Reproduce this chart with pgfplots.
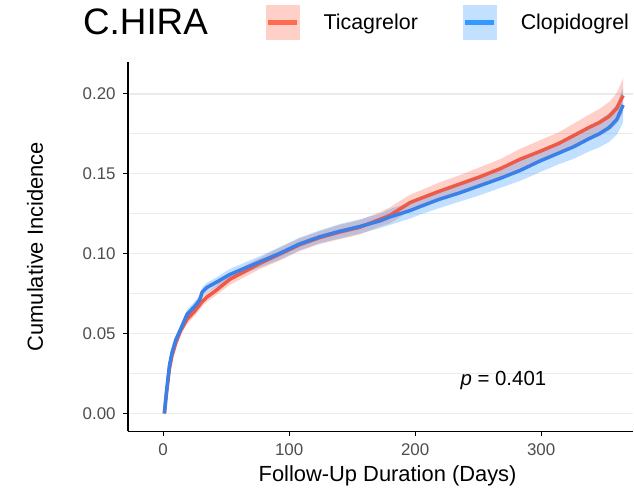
\documentclass[border=0pt]{standalone}
\usepackage{pgfplots}
\pgfplotsset{compat=1.18}
\usepackage{pgfplotstable}
\usepgfplotslibrary{fillbetween}
\usepackage{fontspec}
\setmainfont{Liberation Sans}
\definecolor{redline}{HTML}{EE5A47}
\definecolor{blueline}{HTML}{3A80E8}
\definecolor{redband}{HTML}{FF6347}
\definecolor{blueband}{HTML}{3399FF}
\definecolor{redleg}{HTML}{FF6B50}
\definecolor{blueleg}{HTML}{3399FF}
\definecolor{redlegfill}{HTML}{FFD0C8}
\definecolor{bluelegfill}{HTML}{C2E0FF}
\definecolor{gridc}{HTML}{EBEBEB}
\definecolor{tickc}{HTML}{4D4D4D}
\pgfplotstableread{
x   r      rlo     rhi     b      blo     bhi
1   0      0       0.0005  0      0       0.0005
2   0.008  0.007   0.009   0.008  0.007   0.009
3   0.015  0.014   0.016   0.016  0.015   0.017
5   0.028  0.0265  0.0295  0.030  0.0285  0.0315
7   0.036  0.034   0.038   0.038  0.036   0.040
10  0.044  0.042   0.046   0.046  0.044   0.048
14  0.052  0.0495  0.0545  0.053  0.0505  0.0555
19  0.059  0.056   0.062   0.062  0.059   0.065
25  0.064  0.061   0.067   0.067  0.064   0.070
29  0.068  0.065   0.071   0.071  0.068   0.074
31  0.070  0.067   0.073   0.076  0.073   0.079
35  0.073  0.070   0.076   0.079  0.076   0.082
42  0.077  0.074   0.080   0.082  0.079   0.085
53  0.084  0.0805  0.0875  0.087  0.0835  0.0905
65  0.089  0.0855  0.0925  0.091  0.0875  0.0945
77  0.094  0.0905  0.0975  0.095  0.0915  0.0985
92  0.0995 0.0955  0.1035  0.100  0.096   0.104
108 0.1055 0.1015  0.1095  0.106  0.102   0.110
124 0.110  0.106   0.114   0.1105 0.1065  0.1145
140 0.1135 0.109   0.118   0.114  0.1095  0.1185
156 0.1165 0.112   0.121   0.117  0.1125  0.1215
172 0.1215 0.117   0.126   0.1205 0.116   0.125
180 0.124  0.119   0.129   0.123  0.118   0.128
188 0.128  0.123   0.133   0.125  0.120   0.130
196 0.132  0.127   0.137   0.127  0.122   0.132
204 0.1345 0.1295  0.1395  0.1295 0.1245  0.1345
219 0.139  0.1335  0.1445  0.134  0.1285  0.1395
235 0.1435 0.138   0.149   0.138  0.1325  0.1435
251 0.148  0.142   0.154   0.1425 0.1365  0.1485
267 0.153  0.147   0.159   0.147  0.141   0.153
283 0.159  0.1525  0.1655  0.152  0.1455  0.1585
299 0.164  0.157   0.171   0.158  0.151   0.165
314 0.169  0.162   0.176   0.163  0.156   0.170
326 0.174  0.1665  0.1815  0.167  0.1595  0.1745
338 0.179  0.171   0.187   0.172  0.164   0.180
346 0.182  0.1735  0.1905  0.175  0.1665  0.1835
354 0.186  0.177   0.195   0.179  0.170   0.188
360 0.191  0.1815  0.2005  0.184  0.1745  0.1935
365 0.199  0.188   0.210   0.193  0.182   0.204
}\data
\begin{document}
\begin{tikzpicture}
\begin{axis}[
  scale only axis,
  width=506bp, height=370bp,
  at={(0,0)}, anchor=south west,
  xmin=-28, xmax=373,
  ymin=-0.01125, ymax=0.22,
  clip mode=individual,
  axis lines=left,
  axis line style={-, line width=1.6bp, black},
  xtick={0,100,200,300},
  ytick={0,0.05,0.1,0.15,0.2},
  minor y tick num=1,
  ymajorgrids, yminorgrids,
  major grid style={gridc, line width=1.3bp},
  minor grid style={gridc, line width=1bp},
  tick align=outside,
  major tick length=5bp,
  minor tick length=0pt,
  tick style={black, line width=1.1bp},
  /pgf/number format/assume math mode=true,
  yticklabel style={/pgf/number format/fixed, /pgf/number format/fixed zerofill, /pgf/number format/precision=2, anchor=east, inner sep=0pt, xshift=-7bp, font=\fontsize{17}{17}\selectfont, text=tickc},
  xticklabel style={anchor=base, inner sep=0pt, yshift=-19bp, font=\fontsize{17}{17}\selectfont, text=tickc},
  scaled y ticks=false,
  xlabel={Follow-Up Duration (Days)},
  ylabel={Cumulative Incidence},
  every axis x label/.style={at={(axis description cs:0.514,-0.135)}, anchor=base, inner sep=0pt, font=\fontsize{22}{22}\selectfont},
  every axis y label/.style={at={(axis description cs:-0.168,0.5)}, rotate=90, anchor=base, inner sep=0pt, font=\fontsize{22}{22}\selectfont},
  legend columns=2,
  legend style={at={(axis description cs:0.2727,1.154)}, anchor=north west, draw=none, fill=none, inner sep=0pt, outer sep=0pt,
    font=\fontsize{21.5}{21.5}\selectfont, nodes={inner sep=0pt},
    /tikz/every odd column/.append style={column sep=24bp},
    /tikz/every even column/.append style={column sep=45bp}},
]
\addplot[name path=rhi, draw=none, forget plot] table[x=x,y=rhi]{\data};
\addplot[name path=rlo, draw=none, forget plot] table[x=x,y=rlo]{\data};
\addplot[fill=redband, fill opacity=0.3, draw=none, forget plot] fill between[of=rhi and rlo];
\addplot[name path=bhi, draw=none, forget plot] table[x=x,y=bhi]{\data};
\addplot[name path=blo, draw=none, forget plot] table[x=x,y=blo]{\data};
\addplot[fill=blueband, fill opacity=0.3, draw=none, forget plot] fill between[of=bhi and blo];
\addplot[redline, line width=3.5bp, forget plot] table[x=x,y=r]{\data};
\addplot[blueline, line width=3.5bp, forget plot] table[x=x,y=b]{\data};
\addlegendimage{legend image code/.code={\fill[redlegfill] (0bp,-17bp) rectangle (33bp,17bp); \draw[redleg, line width=5bp] (2bp,0bp)--(31bp,0bp);}}
\addlegendentry{Ticagrelor}
\addlegendimage{legend image code/.code={\fill[bluelegfill] (0bp,-17bp) rectangle (33bp,17bp); \draw[blueleg, line width=5bp] (2bp,0bp)--(31bp,0bp);}}
\addlegendentry{Clopidogrel}
\node[anchor=base, font=\fontsize{20.5}{20.5}\selectfont] at (axis cs:270,0.0175) {\textit{p} = 0.401};
\node[anchor=base west, inner sep=0pt, font=\fontsize{37}{37}\selectfont] at (axis description cs:-0.0889,1.073) {C.HIRA};
\end{axis}
\path (-128bp,-56bp) rectangle (506bp,432bp);
\end{tikzpicture}
\end{document}
